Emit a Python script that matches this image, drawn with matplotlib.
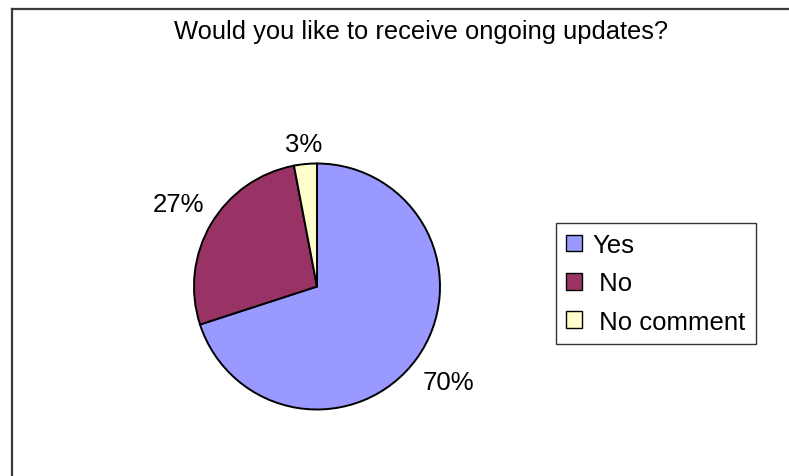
import numpy as np
import matplotlib
matplotlib.use("Agg")
import matplotlib.pyplot as plt
from matplotlib.lines import Line2D

plt.rcParams['font.family'] = ['Liberation Sans', 'DejaVu Sans']

title = "Would you like to receive ongoing updates?"
categories = ["Yes", " No", " No comment"]
shares = [70, 27, 3]
colors = ["#9999FF", "#993366", "#FFFFCC"]
label_dist = [1.32, 1.31, 1.16]

W, H = 789, 477
fig = plt.figure(figsize=(W / 100, H / 100), dpi=100)

# chart-area frame: top and left edges only
fig.add_artist(Line2D([11.5 / W, 1], [1 - 9.5 / H, 1 - 9.5 / H],
                      transform=fig.transFigure, color="#3a3a3a", lw=1.6))
fig.add_artist(Line2D([11.5 / W, 11.5 / W], [0, 1 - 9.5 / H],
                      transform=fig.transFigure, color="#3a3a3a", lw=1.6))

cx, cy, r = 317, 287.5, 123 * 1.02
ax = fig.add_axes([(cx - r) / W, 1 - (cy + r) / H, 2 * r / W, 2 * r / H])
wedges, _ = ax.pie(shares, colors=colors, startangle=90, counterclock=False,
                   radius=1.0,
                   wedgeprops=dict(edgecolor="black", linewidth=1.4))
ax.set_xlim(-1.02, 1.02)
ax.set_ylim(-1.02, 1.02)
ax.set_aspect("equal")
ax.axis("off")

total = sum(shares)
for w, v, d in zip(wedges, shares, label_dist):
    mid = np.deg2rad((w.theta1 + w.theta2) / 2)
    ax.text(d * np.cos(mid), d * np.sin(mid), f"{round(100 * v / total)}%",
            ha="center", va="center", fontsize=18.5, clip_on=False)

fig.text(421 / W, 1 - 32 / H, title, ha="center", va="center", fontsize=18.4)

leg = ax.legend(wedges, categories, loc="upper left",
                bbox_to_anchor=(556 / W, 1 - 224 / H),
                bbox_transform=fig.transFigure, fontsize=18.5,
                frameon=True, fancybox=False, edgecolor="black",
                handlelength=0.6, handleheight=0.6, handletextpad=0.4,
                labelspacing=0.55, borderpad=0.4, borderaxespad=0)
leg.get_frame().set_linewidth(1.0)
for h in leg.legend_handles:
    h.set_linewidth(1.0)

fig.savefig("out.png", dpi=100, facecolor="white")
